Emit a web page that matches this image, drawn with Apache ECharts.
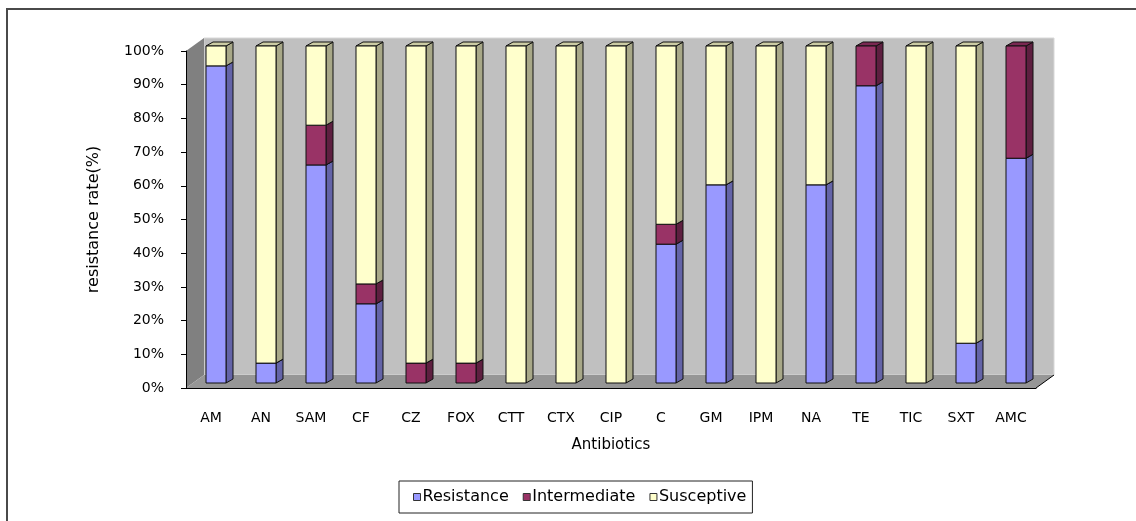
<!DOCTYPE html>
<html>
<head>
<meta charset="utf-8">
<script src="https://cdn.jsdelivr.net/npm/echarts@6/dist/echarts.min.js"></script>
<style>
html, body { margin: 0; padding: 0; background: #fff; }
#main { width: 1136px; height: 521px; }
</style>
</head>
<body>
<div id="main"></div>
<script>
// 抗生素类别
var categories = ['AM', 'AN', 'SAM', 'CF', 'CZ', 'FOX', 'CTT', 'CTX', 'CIP', 'C', 'GM', 'IPM', 'NA', 'TE', 'TIC', 'SXT', 'AMC'];
// 各类比例(%)
var resistance = [94.1, 5.9, 64.7, 23.5, 0, 0, 0, 0, 0, 41.2, 58.8, 0, 58.8, 88.2, 0, 11.8, 66.7];
var intermediate = [0, 0, 11.8, 5.9, 5.9, 5.9, 0, 0, 0, 5.9, 0, 0, 0, 11.8, 0, 0, 33.3];
var susceptive = [5.9, 94.1, 23.5, 70.6, 94.1, 94.1, 100, 100, 100, 52.9, 41.2, 100, 41.2, 0, 100, 88.2, 0];
var yTicks = [0, 10, 20, 30, 40, 50, 60, 70, 80, 90, 100];

var WALL_D = [18, -13]; // 墙体深度
var BAR_OFF = [5, -5];  // 柱子前面偏移
var BAR_D = [7, -4];    // 柱子厚度
var BAR_W = 20;

// 堆叠数据
var stackData = function(list, lower) {
	var out = [];
	for(var i = 0; i < list.length; i++) {
		var base = 0;
		for(var k = 0; k < lower.length; k++) {
			base += lower[k][i];
		}
		out.push([i, base, list[i]]);
	}
	return out;
};

var makeBarRender = function(front, side, top) {
	return function(params, api) {
		var v = api.value(2);
		if(!v) return;
		var i = api.value(0);
		var base = api.value(1);
		var pb = api.coord([i, base]);
		var pt = api.coord([i, base + v]);
		var xl = pb[0] + BAR_OFF[0] - BAR_W / 2;
		var xr = xl + BAR_W;
		var yb = pb[1] + BAR_OFF[1];
		var yt = pt[1] + BAR_OFF[1];
		var edge = { stroke: '#111', lineWidth: 1 };
		return {
			type: 'group',
			children: [{
				type: 'polygon',
				shape: { points: [[xr, yb], [xr + BAR_D[0], yb + BAR_D[1]], [xr + BAR_D[0], yt + BAR_D[1]], [xr, yt]] },
				style: { fill: side, stroke: edge.stroke, lineWidth: edge.lineWidth }
			}, {
				type: 'polygon',
				shape: { points: [[xl, yt], [xl + BAR_D[0], yt + BAR_D[1]], [xr + BAR_D[0], yt + BAR_D[1]], [xr, yt]] },
				style: { fill: top, stroke: edge.stroke, lineWidth: edge.lineWidth }
			}, {
				type: 'rect',
				shape: { x: xl, y: yt, width: BAR_W, height: yb - yt },
				style: { fill: front, stroke: edge.stroke, lineWidth: edge.lineWidth }
			}]
		};
	};
};

var renderWalls = function(params, api) {
	var cs = params.coordSys;
	var x = cs.x, y = cs.y, w = cs.width, h = cs.height;
	var dx = WALL_D[0], dy = WALL_D[1];
	return {
		type: 'group',
		children: [{
			type: 'rect',
			shape: { x: x + dx, y: y + dy, width: w, height: h },
			style: { fill: '#c0c0c0', stroke: '#d8d8d8', lineWidth: 1 }
		}, {
			type: 'polygon',
			shape: { points: [[x, y], [x + dx, y + dy], [x + dx, y + h + dy], [x, y + h]] },
			style: { fill: '#808080' }
		}, {
			type: 'polygon',
			shape: { points: [[x, y + h], [x + dx, y + h + dy], [x + w + dx, y + h + dy], [x + w, y + h]] },
			style: { fill: '#969696' }
		}, {
			type: 'line',
			shape: { x1: x + w, y1: y + h, x2: x + w + dx, y2: y + h + dy },
			style: { stroke: '#000', lineWidth: 1 }
		}]
	};
};

var chart = echarts.init(document.getElementById('main'));
var font = 'DejaVu Sans';
var option = {
	animation: false,
	textStyle: { fontFamily: font, color: '#000' },
	graphic: [{
		type: 'rect',
		shape: { x: 7, y: 9, width: 1300, height: 700 },
		style: { fill: 'none', stroke: '#4a4a4a', lineWidth: 2 },
		z: -10
	}],
	grid: {
		left: 186,
		right: 100,
		top: 51,
		bottom: 133
	},
	legend: {
		left: 399,
		top: 481,
		padding: [8, 6, 8, 14],
		borderColor: '#222',
		borderWidth: 1,
		itemGap: 14,
		itemWidth: 7,
		itemHeight: 7,
		icon: 'rect',
		itemStyle: { borderColor: '#333', borderWidth: 1 },
		textStyle: { fontFamily: font, fontSize: 16, color: '#000', padding: [0, 0, 0, -3] },
		data: ['Resistance', 'Intermediate', 'Susceptive']
	},
	xAxis: {
		type: 'category',
		data: categories,
		z: 10,
		name: 'Antibiotics',
		nameLocation: 'middle',
		nameGap: 50,
		nameTextStyle: { fontFamily: font, fontSize: 15, color: '#000' },
		axisLine: { lineStyle: { color: '#000', width: 1 } },
		axisTick: { length: 5, lineStyle: { color: '#000' } },
		axisLabel: { margin: 23, fontFamily: font, fontSize: 14, color: '#000' }
	},
	yAxis: {
		type: 'value',
		min: yTicks[0],
		max: yTicks[yTicks.length - 1],
		interval: 10,
		z: 10,
		name: 'resistance rate(%)',
		nameLocation: 'middle',
		nameGap: 84,
		nameTextStyle: { fontFamily: font, fontSize: 16, color: '#000' },
		axisLine: { show: true, lineStyle: { color: '#000', width: 1 } },
		axisTick: { show: true, length: 5, lineStyle: { color: '#000' } },
		splitLine: { show: false },
		axisLabel: { margin: 22, fontFamily: font, fontSize: 14, color: '#000', formatter: '{value}%' }
	},
	series: [{
		type: 'custom',
		name: 'walls',
		silent: true,
		z: 0,
		renderItem: renderWalls,
		data: [[0, 0]]
	}, {
		type: 'custom',
		name: 'Resistance',
		z: 3,
		itemStyle: { color: '#9999ff' },
		renderItem: makeBarRender('#9999ff', '#6464a8', '#7a7ad0'),
		data: stackData(resistance, [])
	}, {
		type: 'custom',
		name: 'Intermediate',
		z: 3,
		itemStyle: { color: '#993366' },
		renderItem: makeBarRender('#993366', '#5e1f40', '#7a2852'),
		data: stackData(intermediate, [resistance])
	}, {
		type: 'custom',
		name: 'Susceptive',
		z: 3,
		itemStyle: { color: '#ffffcc' },
		renderItem: makeBarRender('#ffffcc', '#a8a888', '#cccca4'),
		data: stackData(susceptive, [resistance, intermediate])
	}]
};
chart.setOption(option);
</script>
</body>
</html>
